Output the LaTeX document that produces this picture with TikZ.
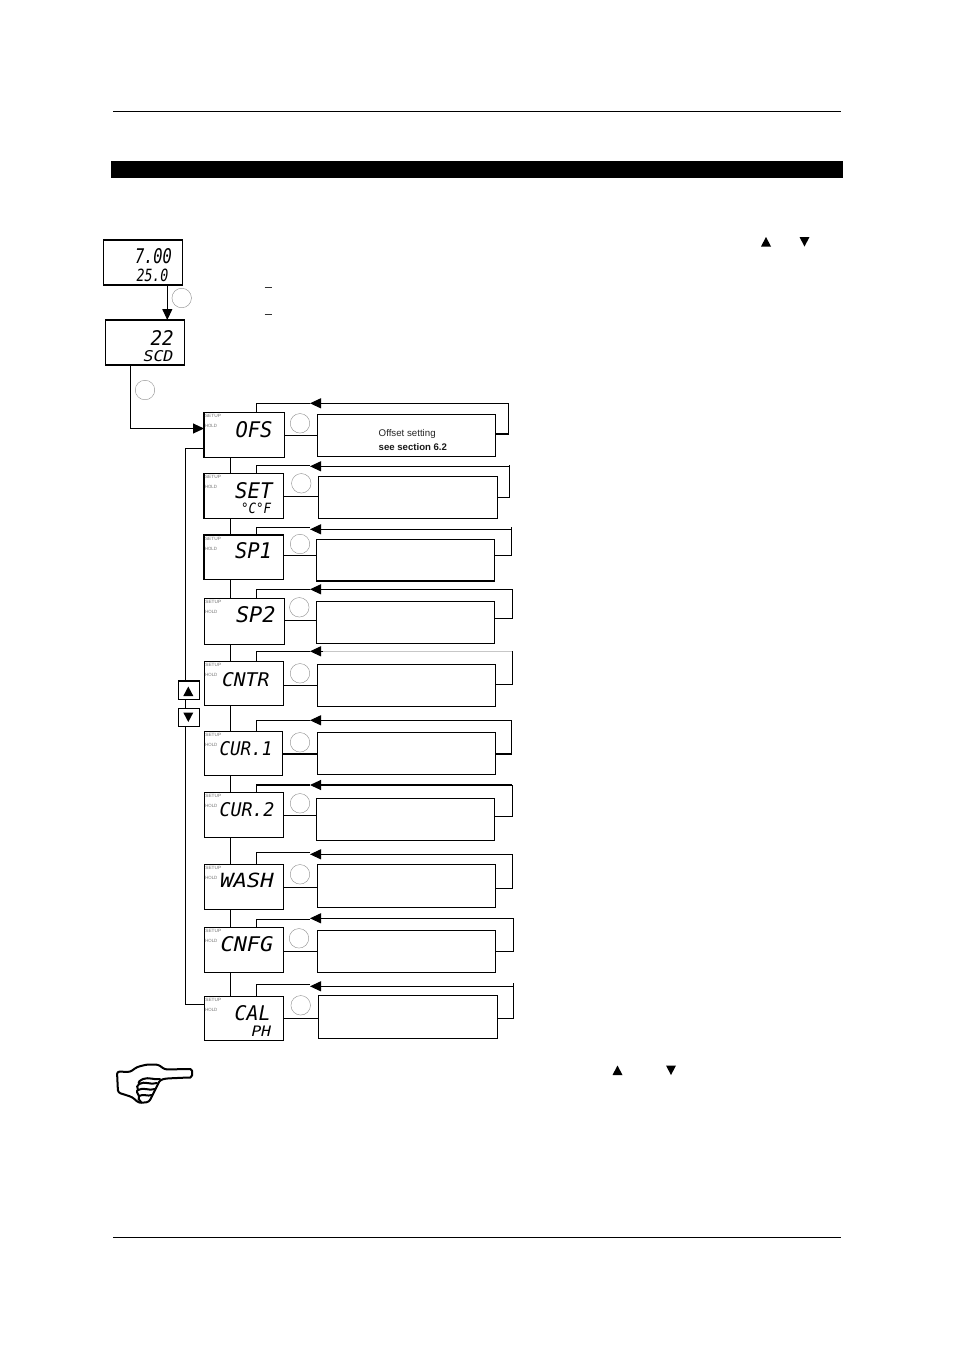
\documentclass[tikz,border=0pt]{standalone}
\usepackage{graphicx}
\usepackage{fontspec}
\setmainfont{Liberation Sans}
\newfontfamily\lcdfont{DejaVu Sans Mono}
\usetikzlibrary{arrows.meta}
\tikzset{
  px/.style={x=1pt,y=-1pt},
  wire/.style={draw=black,line width=1.05pt},
  arr/.style={wire,-{Triangle[length=11pt,width=10pt]}},
  lcdbox/.style={draw=black,line width=1.05pt,inner sep=0pt,outer sep=0pt,anchor=north west,fill=white},
  keyring/.style={circle,draw=black!45,line width=0.4pt,minimum size=19.5pt,inner sep=0pt},
  lcdtext/.style={inner sep=0pt,outer sep=0pt,anchor=base west,font=\lcdfont\itshape\fontsize{20}{20}\selectfont,text=black},
  tiny/.style={inner sep=0pt,outer sep=0pt,anchor=west,font=\fontsize{4}{4}\selectfont,text=black!55},
  btn/.style={draw=black,line width=1.05pt,inner sep=0pt,outer sep=0pt,anchor=north west,minimum width=21pt,minimum height=18.5pt},
  tri/.style={fill=black,draw=none}
}
\newcommand{\lcd}[6]{% name, x, baseline, w, h, text
  \node[lcdtext] (#1) at (#2,#3) {\resizebox{#4pt}{#5pt}{#6}};}
\begin{document}
\begin{tikzpicture}[px]
\useasboundingbox (0,0) rectangle (954,1350);
\fill[white] (0,0) rectangle (954,1350);
% page furniture
\coordinate (ruleAl) at (113,111.5); \coordinate (ruleAr) at (841,111.5);
\coordinate (ruleBl) at (113,1237.5); \coordinate (ruleBr) at (841,1237.5);
\draw[line width=0.8pt] (ruleAl) -- (ruleAr);
\draw[line width=0.8pt] (ruleBl) -- (ruleBr);
\fill[black] (111,161) rectangle (843,178);
% displays at the top
\node[lcdbox,minimum width=79pt,minimum height=45pt] (dispA) at (103.5,240) {};
\node[lcdbox,minimum width=79pt,minimum height=45pt] (dispB) at (105.5,320) {};
\lcd{a1}{135}{263.5}{37}{15}{7.00}
\lcd{a2}{136.5}{281.7}{32}{12.5}{25.0}
\lcd{b1}{150.5}{345}{23}{15}{22}
\lcd{b2}{143.5}{361.7}{30}{11}{SCD}
\node[keyring] (kA) at (181.7,298) {};
\node[keyring] (kB) at (145,390) {};
\coordinate (ab) at (167.3,0);
\draw[arr] (ab |- dispA.south) -- (ab |- dispB.north);
\coordinate (bd) at (130.5,0);
\coordinate (bdy) at (0,428.5);
% the rows
\foreach \n/\xa/\xb/\ya/\yb/\pa/\pb/\pc/\pd/\rx/\tR/\tL/\tO/\ry/\ly/\cx/\cy in {
 1/204/284.5/412.3/457.3/317.3/495.3/414.3/456.3/508.3/403.3/403.3/403.3/434/435.3/300/423.3,
 2/204/283.7/473.3/518.3/318.3/497.3/476.3/518.3/509.3/466.3/465.7/465/497.3/496.3/301.3/483.3,
 3/204/283.7/535/579.3/316.3/494.3/539.3/581/511.3/529.3/527.3/526.7/555.3/555.3/300/544,
 4/204.3/284.3/598.3/644.3/316.3/494.3/601.7/643.3/512.3/589.3/589.3/589.3/618.3/620.3/299.3/607.3,
 5/204.3/283.3/661.3/705.3/317.3/495.3/664.3/706.3/512.3/651.3/651.3/651.3/684.3/685.7/300/673.3,
 6/204.3/282.3/731.3/775.3/317.3/495.3/732.3/774.3/511.3/720.3/720.3/720.3/754/754/300/742.3,
 7/204.3/283.3/792.3/837.3/316.3/494.3/798.3/840.3/512.3/785/785/785/816.3/815.3/300/803.3,
 8/204.3/283.3/864.3/909.3/317.3/495.7/864.3/907.3/512.3/854.3/852.7/854.3/888.3/887.3/300/874.3,
 9/204.3/283.3/927.3/972.3/317.3/495.7/930.3/972.3/513.3/918.3/919.7/918.3/951.3/951.3/299/938.3,
 10/204.3/283.3/996.3/1040.3/318.3/497.3/995.3/1038.3/513.3/986.3/984.7/982.7/1018.3/1018.3/300.7/1005.3}{
  \node[lcdbox,minimum width={(\xb-\xa)*1pt},minimum height={(\yb-\ya)*1pt}] (d\n) at (\xa,\ya) {};
  \node[lcdbox,minimum width={(\pb-\pa)*1pt},minimum height={(\pd-\pc)*1pt}] (t\n) at (\pa,\pc) {};
  \node[keyring] (k\n) at (\cx,\cy) {};
  \node[tiny] (su\n) at ({\xa+1},{\ya+3.5}) {\resizebox{16pt}{3.2pt}{SETUP}};
  \node[tiny] (ho\n) at ({\xa+1},{\ya+13.5}) {\resizebox{12pt}{3.2pt}{HOLD}};
  \coordinate (cR\n) at (\rx,\ry);
  \coordinate (cO\n) at (\rx,\tO);
  \coordinate (cT\n) at (\rx,\tR);
  \coordinate (cA\n) at (310,\tR);
  \coordinate (cL\n) at (256.3,\tL);
  \coordinate (cK\n) at (0,\ly);
  \draw[wire] (d\n.east |- cK\n) -- (t\n.west |- cK\n);
  \draw[wire] (t\n.east |- cR\n) -- (cR\n) -- (cO\n);
  \draw[arr] (cT\n) -- (cA\n);
  \draw[wire] (cA\n |- cL\n) -- (cL\n) -- (cL\n |- d\n.north);
}
% faded upper line of the CNTR loop
\coordinate (fadeA) at (323,651.3); \coordinate (fadeB) at (511.5,651.3);
\draw[line width=1.2pt,black!22] (fadeA) -- (fadeB);
\draw[wire] (bd |- dispB.south) -- (bd |- bdy);
\draw[arr] (bd |- bdy) -- (d1.west |- bdy);
% vertical chain
\coordinate (chain) at (230.3,0);
\foreach \i/\j in {1/2,2/3,3/4,4/5,5/6,6/7,7/8,8/9,9/10}{
  \draw[wire] (chain |- d\i.south) -- (chain |- d\j.north);
}
% up/down keys and return bus
\node[btn] (up) at (178.5,681) {};
\node[btn] (down) at (178.5,708.3) {};
\fill[tri] (183.3,696) -- (193.3,696) -- (188.3,686.5) -- cycle;
\fill[tri] (183.3,712.5) -- (193.3,712.5) -- (188.3,722) -- cycle;
\coordinate (busT) at (185.5,448.3);
\coordinate (busB) at (185.5,1004.3);
\draw[wire] (d1.west |- busT) -- (busT) -- (busT |- up.north);
\draw[wire] (busT |- up.south) -- (busT |- down.north);
\draw[wire] (busT |- down.south) -- (busB) -- (d10.west |- busB);
% LCD labels
\lcd{l1}{235.5}{437}{37}{16}{OFS}
\lcd{l2}{235}{498.3}{37.5}{16}{SET}
\node[lcdtext] (l2b) at (241,513) {\resizebox{30pt}{10.5pt}{°C°F}};
\lcd{l3}{235}{558.3}{37}{16}{SP1}
\lcd{l4}{236}{622.3}{39.5}{16}{SP2}
\lcd{l5}{222}{686}{47.5}{14}{CNTR}
\lcd{l6}{219.5}{755}{53}{14}{CUR.1}
\lcd{l7}{219.5}{816.7}{55}{14}{CUR.2}
\lcd{l8}{220}{887.7}{54}{14.5}{WASH}
\lcd{l9}{220.5}{951.7}{53}{15}{CNFG}
\lcd{l10}{234.5}{1020}{36}{15}{CAL}
\lcd{l11}{251.5}{1036}{19.5}{10.5}{PH}
% text of the first box
\node[inner sep=0pt,anchor=base west,font=\fontsize{9.7}{10}\selectfont,text=black!85] (off1) at (378.5,436) {Offset setting};
\node[inner sep=0pt,anchor=base west,font=\bfseries\fontsize{9.6}{10}\selectfont,text=black!90] (off2) at (378.5,450) {see section 6.2};
% small marks and triangles of the page
\coordinate (m1a) at (264.5,287.5); \coordinate (m1b) at (272,287.5);
\coordinate (m2a) at (264.5,314); \coordinate (m2b) at (272,314);
\draw[line width=0.7pt,black!80] (m1a) -- (m1b);
\draw[line width=0.7pt,black!80] (m2a) -- (m2b);
\fill[tri] (761,246.5) -- (771,246.5) -- (766,237) -- cycle;
\fill[tri] (799.5,237) -- (809.5,237) -- (804.5,246.5) -- cycle;
\fill[tri] (612.5,1075) -- (622.5,1075) -- (617.5,1065.5) -- cycle;
\fill[tri] (666,1065.5) -- (676,1065.5) -- (671,1075) -- cycle;
% pointing hand
\draw[fill=white,line width=2pt,line join=round,rounded corners=2.5pt]
  (117,1071.5) -- (130,1072) -- (137,1067) -- (147,1064.5) -- (158,1064.5) -- (165,1069.5)
  -- (188,1069) to[out=0,in=90] (192,1073) to[out=-90,in=0] (188,1077.5)
  -- (166,1078.5) -- (160,1080) -- (158,1084) -- (155,1090) -- (152,1096) -- (149,1102)
  -- (139,1103) -- (132,1097) -- (118,1092.5) -- cycle;
\draw[line width=2pt,line cap=round]
  (143,1079) to[out=20,in=190] (160,1079)
  (139,1084) to[out=30,in=200] (157,1083)
  (138,1090) to[out=30,in=200] (155,1089)
  (139,1096) to[out=30,in=200] (152,1095)
  (143,1079) to[out=200,in=120] (139,1084)
  (139,1084) to[out=200,in=120] (138,1090)
  (138,1090) to[out=200,in=120] (139,1096)
  (139,1096) to[out=230,in=140] (141,1102);
\end{tikzpicture}
\end{document}
